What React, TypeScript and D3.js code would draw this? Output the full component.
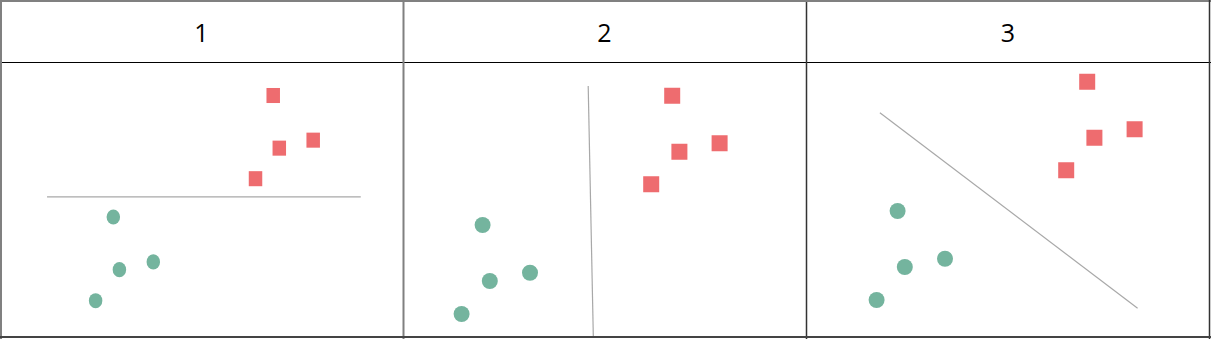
import React from "react";
import * as d3 from "d3";

// Panel titles
const panelTitles: string[] = ["1", "2", "3"];

// Class A (circles) feature values
const circleX: number[] = [1.42, 1.66, 3.0, 0.72];
const circleY: number[] = [4.2, 1.96, 2.29, 0.64];

// Class B (squares) feature values
const squareX: number[] = [7.74, 7.98, 9.32, 7.04];
const squareY: number[] = [9.37, 7.13, 7.47, 5.83];

// Separating line endpoints per panel [x1, y1, x2, y2]
const separatorLines: number[][] = [
  [-1.2, 5.06, 11.2, 5.06],
  [4.94, 9.76, 5.11, -0.24],
  [0.83, 8.13, 9.42, 0.31],
];

const W = 1211;
const H = 339;
const HEADER_Y = 62;
const COL_X = [0, 403, 806, 1210];

// layout of each panel's plot area (pixel ranges for data domain [0,10])
const panelLayout = [
  { xr: [77.4, 330.4], yr: [315.7, 80.7] },
  { xr: [440, 740], yr: [330, 80] },
  { xr: [855, 1155], yr: [316, 66] },
];

const GREEN = "#74b49e";
const RED = "#ee6c6f";

export default function App() {
  return (
    <svg
      width={W}
      height={H}
      style={{ position: "absolute", left: 0, top: 0, background: "#fff" }}
    >
      <rect x={0} y={0} width={W} height={H} fill="#fff" />
      {panelTitles.map((t, i) => {
        const L = panelLayout[i];
        const xs = d3.scaleLinear().domain([0, 10]).range(L.xr);
        const ys = d3.scaleLinear().domain([0, 10]).range(L.yr);
        const sx = Math.abs(L.xr[1] - L.xr[0]) / 300;
        const sy = Math.abs(L.yr[1] - L.yr[0]) / 250;
        const mw = 16 * sx;
        const mh = 16 * sy;
        const ln = separatorLines[i];
        const cx = (COL_X[i] + COL_X[i + 1]) / 2;
        return (
          <g key={t}>
            <text
              x={cx}
              y={32}
              textAnchor="middle"
              dominantBaseline="central"
              fontFamily="'Open Sans', sans-serif"
              fontSize={25}
              fill="#000"
            >
              {t}
            </text>
            <line
              x1={xs(ln[0])}
              y1={ys(ln[1])}
              x2={xs(ln[2])}
              y2={ys(ln[3])}
              stroke="#a8a8a8"
              strokeWidth={1.2}
            />
            {squareX.map((v, j) => (
              <rect
                key={"s" + j}
                x={xs(v) - mw / 2}
                y={ys(squareY[j]) - mh / 2}
                width={mw}
                height={mh}
                fill={RED}
              />
            ))}
            {circleX.map((v, j) => (
              <ellipse
                key={"c" + j}
                cx={xs(v)}
                cy={ys(circleY[j])}
                rx={mw / 2}
                ry={mh / 2}
                fill={GREEN}
              />
            ))}
          </g>
        );
      })}
      {/* header separator */}
      <line x1={0} y1={HEADER_Y + 0.5} x2={W} y2={HEADER_Y + 0.5} stroke="#000" strokeWidth={1} />
      {/* column dividers */}
      <line x1={403.5} y1={0} x2={403.5} y2={H} stroke="#808080" strokeWidth={2} />
      <line x1={806.5} y1={0} x2={806.5} y2={H} stroke="#333" strokeWidth={1.5} />
      {/* outer borders */}
      <line x1={0} y1={1} x2={W} y2={1} stroke="#808080" strokeWidth={2} />
      <line x1={1} y1={0} x2={1} y2={H} stroke="#808080" strokeWidth={2} />
      <line x1={1209.5} y1={0} x2={1209.5} y2={H} stroke="#333" strokeWidth={1.5} />
      <line x1={0} y1={337} x2={W} y2={337} stroke="#444" strokeWidth={2} />
    </svg>
  );
}
